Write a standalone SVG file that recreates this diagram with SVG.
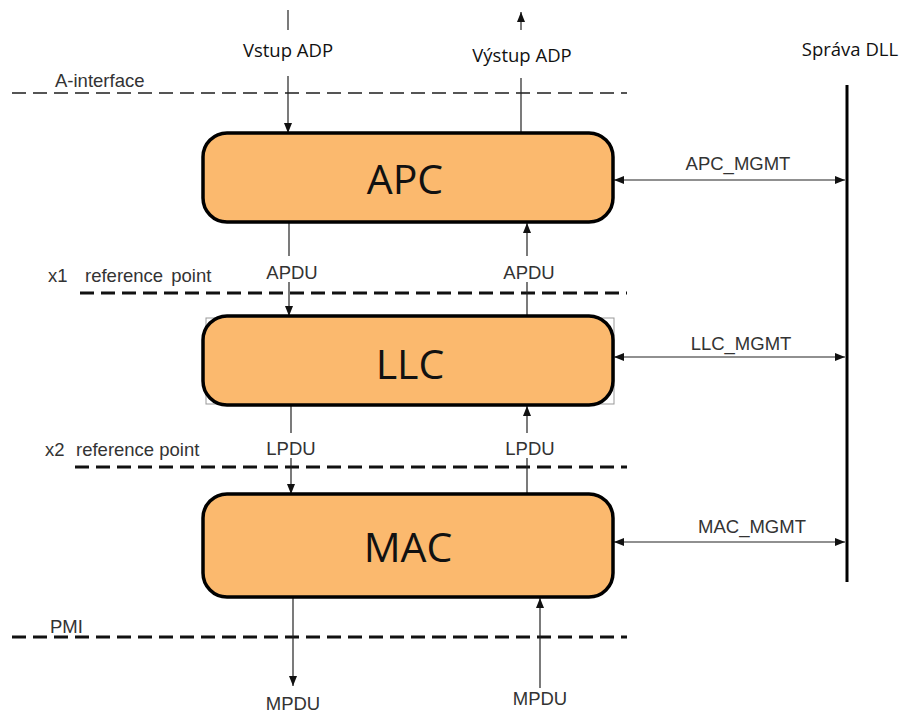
<svg xmlns="http://www.w3.org/2000/svg" width="905" height="713" viewBox="0 0 905 713">
  <style>
    .box { fill: #FBB96E; stroke: #000; stroke-width: 3.5; }
    .boxlabel { font-family: "Open Sans", "Noto Sans", sans-serif; font-size: 41px; fill: #111; text-anchor: middle; }
    .lbl { font-family: "Liberation Sans", Arial, sans-serif; font-size: 18.5px; fill: #333; }
    .mid { text-anchor: middle; }
    .head { font-family: "Open Sans", "Noto Sans", sans-serif; font-size: 18.5px; font-weight: 500; fill: #111; text-anchor: middle; }
    .conn { stroke: #222; stroke-width: 1.2; fill: none; }
    .ref { stroke: #111; stroke-width: 3; stroke-dasharray: 14 7; fill: none; }
    .refA { stroke: #555; stroke-width: 2.2; stroke-dasharray: 14 7; fill: none; }
    .sel { fill: none; stroke: #999; stroke-width: 1; }
  </style>
  <defs>
    <marker id="arr" viewBox="0 0 10 8" refX="10" refY="4" markerWidth="10" markerHeight="8" markerUnits="userSpaceOnUse" orient="auto">
      <path d="M0,0 L10,4 L0,8 Z" fill="#111"/>
    </marker>
    <marker id="arrS" viewBox="0 0 10 8" refX="0" refY="4" markerWidth="10" markerHeight="8" markerUnits="userSpaceOnUse" orient="auto">
      <path d="M10,0 L0,4 L10,8 Z" fill="#111"/>
    </marker>
  </defs>

  <rect width="905" height="713" fill="#fff"/>

  <!-- reference lines -->
  <g id="reference-lines">
    <line class="refA" x1="12" y1="93" x2="627" y2="93"/>
    <text class="lbl" x="55" y="87">A-interface</text>
    <line class="ref" x1="80" y1="293" x2="627" y2="293"/>
    <text class="lbl" x="48" y="282">x1</text>
    <text class="lbl" x="85" y="282" word-spacing="3">reference point</text>
    <line class="ref" x1="75" y1="467" x2="627" y2="467"/>
    <text class="lbl" x="45" y="456">x2</text>
    <text class="lbl" x="76" y="456">reference point</text>
    <line class="ref" x1="12" y1="637" x2="627" y2="637"/>
    <text class="lbl" x="50" y="633">PMI</text>
  </g>

  <!-- connectors -->
  <g id="connectors">
    <!-- ADP input / output -->
    <line class="conn" x1="288" y1="10" x2="288" y2="30"/>
    <line class="conn" x1="288" y1="76" x2="288" y2="133" marker-end="url(#arr)"/>
    <line class="conn" x1="521" y1="132" x2="521" y2="78"/>
    <line class="conn" x1="521" y1="30" x2="521" y2="12" marker-end="url(#arr)"/>
    <!-- APDU -->
    <line class="conn" x1="289" y1="223" x2="289" y2="256"/>
    <line class="conn" x1="289" y1="282" x2="289" y2="316" marker-end="url(#arr)"/>
    <line class="conn" x1="527" y1="316" x2="527" y2="282"/>
    <line class="conn" x1="527" y1="256" x2="527" y2="223" marker-end="url(#arr)"/>
    <!-- LPDU -->
    <line class="conn" x1="291" y1="406" x2="291" y2="433"/>
    <line class="conn" x1="291" y1="458" x2="291" y2="494" marker-end="url(#arr)"/>
    <line class="conn" x1="527" y1="494" x2="527" y2="458"/>
    <line class="conn" x1="527" y1="433" x2="527" y2="406" marker-end="url(#arr)"/>
    <!-- MPDU -->
    <line class="conn" x1="293" y1="598" x2="293" y2="686" marker-end="url(#arr)"/>
    <line class="conn" x1="540" y1="688" x2="540" y2="598" marker-end="url(#arr)"/>
    <!-- management -->
    <line class="conn" x1="614" y1="180" x2="845" y2="180" marker-start="url(#arrS)" marker-end="url(#arr)"/>
    <line class="conn" x1="614" y1="357" x2="845" y2="357" marker-start="url(#arrS)" marker-end="url(#arr)"/>
    <line class="conn" x1="614" y1="542" x2="845" y2="542" marker-start="url(#arrS)" marker-end="url(#arr)"/>
  </g>

  <!-- connector labels -->
  <g id="labels">
    <text class="head" x="288" y="57">Vstup ADP</text>
    <text class="head" x="522" y="62">Výstup ADP</text>
    <text class="head" x="850" y="56">Správa DLL</text>
    <text class="lbl mid" x="292" y="279">APDU</text>
    <text class="lbl mid" x="529" y="279">APDU</text>
    <text class="lbl mid" x="291" y="455">LPDU</text>
    <text class="lbl mid" x="530" y="455">LPDU</text>
    <text class="lbl mid" x="293" y="710">MPDU</text>
    <text class="lbl mid" x="540" y="705">MPDU</text>
    <text class="lbl mid" x="738" y="170">APC_MGMT</text>
    <text class="lbl mid" x="741" y="350">LLC_MGMT</text>
    <text class="lbl mid" x="752" y="533">MAC_MGMT</text>
  </g>

  <!-- DLL management bus -->
  <g id="dll-management">
    <line x1="847" y1="85" x2="847" y2="582" stroke="#000" stroke-width="3"/>
  </g>

  <!-- layers -->
  <g id="apc">
    <rect class="box" x="203" y="133" width="410" height="89" rx="24"/>
    <text class="boxlabel" x="405" y="194">APC</text>
  </g>
  <g id="llc">
    <rect class="sel" x="206" y="318" width="408" height="86"/>
    <rect class="box" x="203" y="316" width="410" height="89" rx="24"/>
    <text class="boxlabel" x="410" y="379">LLC</text>
  </g>
  <g id="mac">
    <rect class="box" x="203" y="494" width="410" height="103" rx="24"/>
    <text class="boxlabel" x="408" y="562">MAC</text>
  </g>
</svg>
